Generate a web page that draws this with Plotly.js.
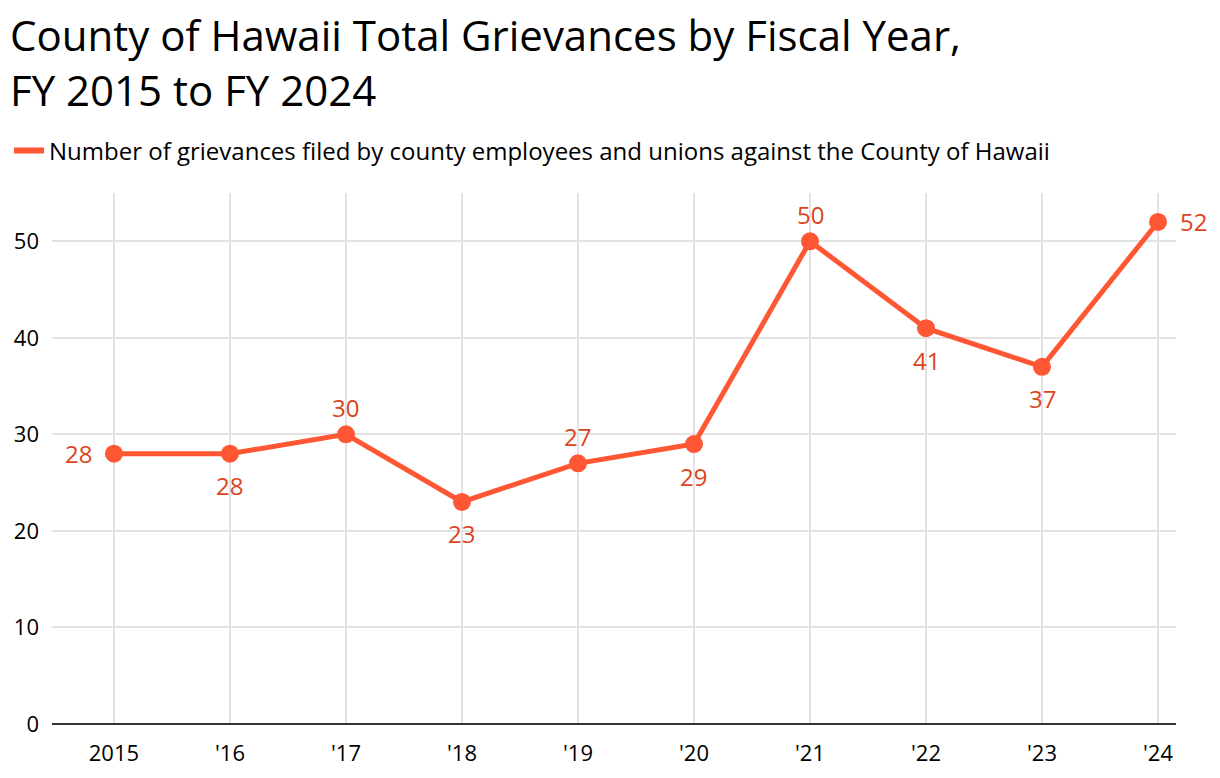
<!DOCTYPE html>
<html>
<head>
<meta charset="utf-8">
<script src="https://cdn.plot.ly/plotly-3.0.1.min.js"></script>
<style>html,body{margin:0;padding:0;background:#fff;}#chart{width:1220px;height:778px;}</style>
</head>
<body>
<div id="chart"></div>
<script>
const years = [2015, 2016, 2017, 2018, 2019, 2020, 2021, 2022, 2023, 2024];
const tickLabels = ["2015", "'16", "'17", "'18", "'19", "'20", "'21", "'22", "'23", "'24"];
const grievances = [28, 28, 30, 23, 27, 29, 50, 41, 37, 52];
const labelSides = ["left", "below", "above", "below", "above", "below", "above", "below", "below", "right"];
const seriesName = "Number of grievances filed by county employees and unions against the County of Hawaii";
const titleLines = ["County of Hawaii Total Grievances by Fiscal Year,", "FY 2015 to FY 2024"];

const FONT = "'Open Sans', sans-serif";
const LINE_COLOR = '#ff5733';
const LABEL_COLOR = '#dc441e';

const W = 1220, H = 778;
const M = {l: 52, r: 44, t: 193, b: 54, autoexpand: false};
const plotW = W - M.l - M.r;
const plotH = H - M.t - M.b;
const px2paperX = px => (px - M.l) / plotW;
const px2paperY = py => (H - M.b - py) / plotH;

const mainTrace = {
  x: years,
  y: grievances,
  type: 'scatter',
  mode: 'lines+markers',
  name: seriesName,
  showlegend: false,
  line: {color: LINE_COLOR, width: 5},
  marker: {color: LINE_COLOR, size: 18},
  cliponaxis: false
};

const legendTrace = {
  x: [null],
  y: [null],
  type: 'scatter',
  mode: 'lines',
  name: seriesName,
  showlegend: true,
  line: {color: LINE_COLOR, width: 6}
};

const shiftFor = {
  left:  {xshift: -35, yshift: 0},
  right: {xshift: 35, yshift: 0},
  above: {xshift: 0, yshift: 27},
  below: {xshift: 0, yshift: -32}
};

const labelAnnotations = years.map((yr, i) => ({
  x: yr,
  y: grievances[i],
  xref: 'x', yref: 'y',
  text: String(grievances[i]),
  showarrow: false,
  xanchor: 'center', yanchor: 'middle',
  xshift: shiftFor[labelSides[i]].xshift,
  yshift: shiftFor[labelSides[i]].yshift,
  font: {family: FONT, size: 24, color: LABEL_COLOR}
}));

const titleAnnotation = {
  text: titleLines.join('<br>'),
  xref: 'paper', yref: 'paper',
  x: px2paperX(8),
  y: px2paperY(62),
  showarrow: false,
  align: 'left',
  xanchor: 'left', yanchor: 'middle',
  font: {family: FONT, size: 42, color: '#000'}
};

const layout = {
  width: W,
  height: H,
  margin: M,
  paper_bgcolor: '#ffffff',
  plot_bgcolor: '#ffffff',
  font: {family: FONT, color: '#000'},
  showlegend: true,
  legend: {
    x: 9 / W, xanchor: 'left', xref: 'container',
    y: 1 - 151 / H, yanchor: 'middle', yref: 'container',
    font: {family: FONT, size: 24, color: '#000'},
    itemwidth: 30,
    bgcolor: 'rgba(0,0,0,0)'
  },
  xaxis: {
    range: [2014.466, 2024.155],
    tickmode: 'array',
    tickvals: years,
    ticktext: tickLabels,
    showgrid: true,
    gridcolor: '#e3e3e3',
    gridwidth: 2,
    zeroline: false,
    showline: false,
    ticks: '',
    ticklabelstandoff: 14,
    tickfont: {family: FONT, size: 22, color: '#000'},
    fixedrange: true
  },
  yaxis: {
    range: [0, 55],
    tickmode: 'array',
    tickvals: [0, 10, 20, 30, 40, 50],
    showgrid: true,
    gridcolor: '#e3e3e3',
    gridwidth: 2,
    zeroline: true,
    zerolinecolor: '#333',
    zerolinewidth: 2,
    showline: false,
    ticks: '',
    ticklabelstandoff: 12,
    tickfont: {family: FONT, size: 22, color: '#000'},
    fixedrange: true
  },
  annotations: labelAnnotations.concat([titleAnnotation])
};

Plotly.newPlot('chart', [mainTrace, legendTrace], layout, {displayModeBar: false, staticPlot: true});
</script>
</body>
</html>
